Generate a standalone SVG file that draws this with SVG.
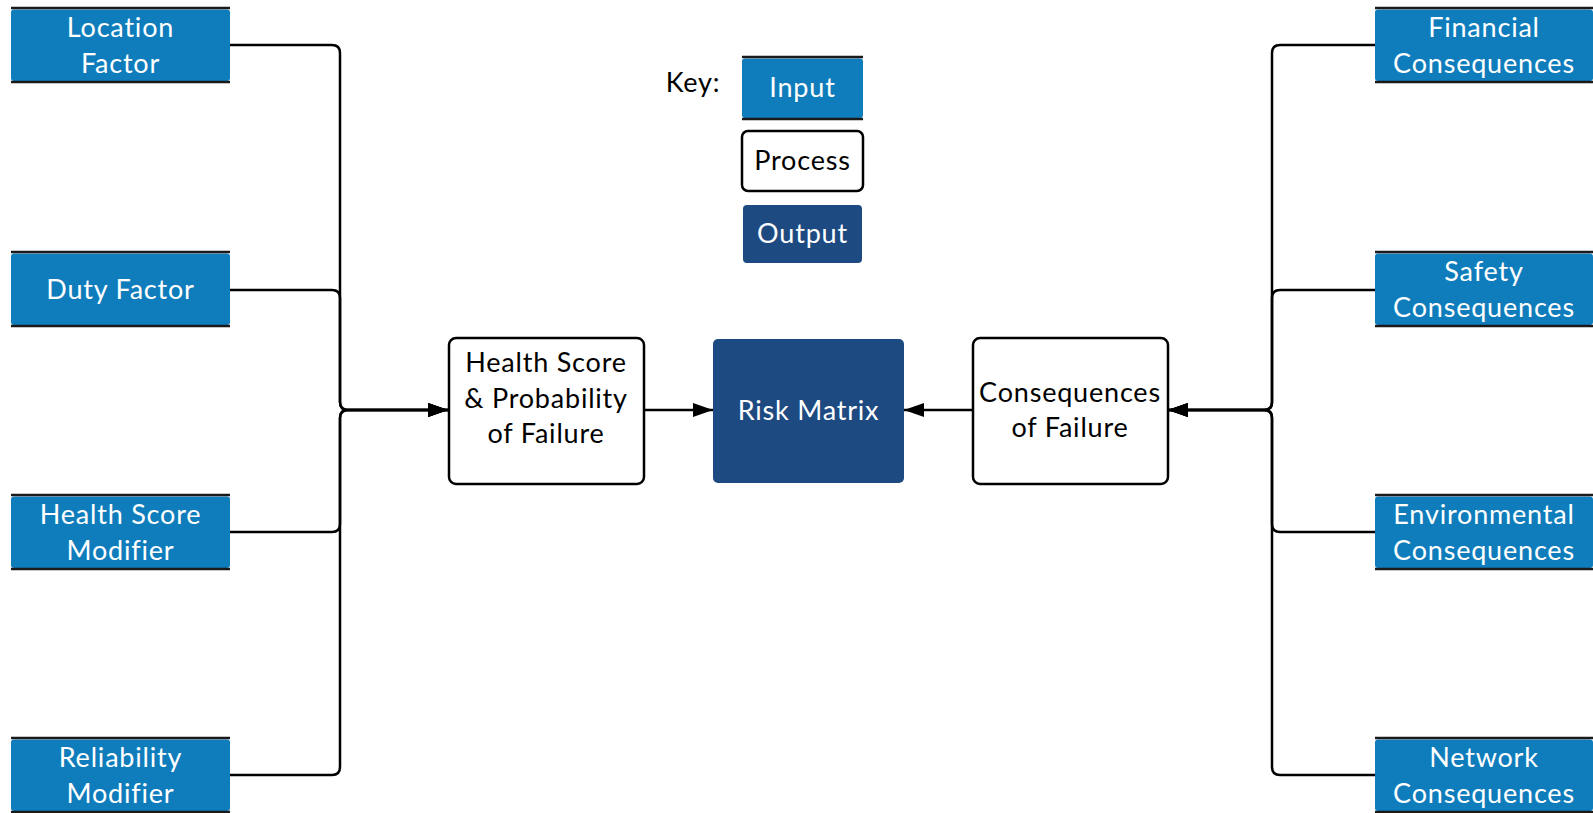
<svg xmlns="http://www.w3.org/2000/svg" width="1593" height="813" viewBox="0 0 1593 813">
  <defs>
    <marker id="arrowhead" viewBox="0 0 20 14" refX="20" refY="7" markerWidth="20" markerHeight="14" markerUnits="userSpaceOnUse" orient="auto">
      <path d="M0,0 L20,7 L0,14 z" fill="#000"/>
    </marker>
  </defs>
  <style>
    text { font-family: "Lato", "Liberation Sans", sans-serif; font-size: 27px; letter-spacing: 0.8px; text-anchor: middle; }
    .in rect { fill: #0f7dbc; }
    .in line { stroke: #1a1a1a; stroke-width: 2.5; }
    .in text { fill: #ffffff; }
    .proc rect { fill: #ffffff; stroke: #000; stroke-width: 2.5; }
    .proc text { fill: #000; }
    .out rect { fill: #1d4a81; }
    .out text { fill: #ffffff; }
    .wire { fill: none; stroke: #000; stroke-width: 2.5; }
  </style>
  <rect width="1593" height="813" fill="#fff"/>

  <!-- connectors -->
  <g id="connectors">
    <!-- left inputs into health score box -->
    <path class="wire" d="M230,45 H332 Q340,45 340,53 V402 Q340,410 348,410 H448" marker-end="url(#arrowhead)"/>
    <path class="wire" d="M230,290 H332 Q340,290 340,298 V402 Q340,410 348,410 H448" marker-end="url(#arrowhead)"/>
    <path class="wire" d="M230,532 H332 Q340,532 340,524 V418 Q340,410 348,410 H448" marker-end="url(#arrowhead)"/>
    <path class="wire" d="M230,775 H332 Q340,775 340,767 V418 Q340,410 348,410 H448" marker-end="url(#arrowhead)"/>
    <!-- right inputs into consequences box -->
    <path class="wire" d="M1375,45 H1280 Q1272,45 1272,53 V402 Q1272,410 1264,410 H1168" marker-end="url(#arrowhead)"/>
    <path class="wire" d="M1375,290 H1280 Q1272,290 1272,298 V402 Q1272,410 1264,410 H1168" marker-end="url(#arrowhead)"/>
    <path class="wire" d="M1375,532 H1280 Q1272,532 1272,524 V418 Q1272,410 1264,410 H1168" marker-end="url(#arrowhead)"/>
    <path class="wire" d="M1375,775 H1280 Q1272,775 1272,767 V418 Q1272,410 1264,410 H1168" marker-end="url(#arrowhead)"/>
    <!-- process boxes into risk matrix -->
    <path class="wire" d="M644,410 H713" marker-end="url(#arrowhead)"/>
    <path class="wire" d="M972,410 H904" marker-end="url(#arrowhead)"/>
  </g>

  <!-- key -->
  <g id="key">
    <text x="693" y="92" style="fill: #000;">Key:</text>
    <g id="key-input" class="in">
      <rect x="742" y="58.5" width="121" height="59.5" rx="3"/>
      <line x1="742" y1="57" x2="863" y2="57"/>
      <line x1="742" y1="119" x2="863" y2="119"/>
      <text x="802.5" y="97">Input</text>
    </g>
    <g id="key-process" class="proc">
      <rect x="742" y="131" width="121" height="60" rx="6"/>
      <text x="802.5" y="170">Process</text>
    </g>
    <g id="key-output" class="out">
      <rect x="743" y="205" width="119" height="58" rx="4"/>
      <text x="802.5" y="243">Output</text>
    </g>
  </g>

  <!-- left inputs -->
  <g id="location-factor" class="in">
    <rect x="11" y="9.5" width="219" height="71.5" rx="3"/>
    <line x1="11" y1="8" x2="230" y2="8"/>
    <line x1="11" y1="82" x2="230" y2="82"/>
    <text x="120.5" y="37">Location</text>
    <text x="120.5" y="73">Factor</text>
  </g>
  <g id="duty-factor" class="in">
    <rect x="11" y="253.5" width="219" height="71.5" rx="3"/>
    <line x1="11" y1="252" x2="230" y2="252"/>
    <line x1="11" y1="326" x2="230" y2="326"/>
    <text x="120.5" y="299">Duty Factor</text>
  </g>
  <g id="health-score-modifier" class="in">
    <rect x="11" y="496.5" width="219" height="71.5" rx="3"/>
    <line x1="11" y1="495" x2="230" y2="495"/>
    <line x1="11" y1="569" x2="230" y2="569"/>
    <text x="120.5" y="524">Health Score</text>
    <text x="120.5" y="560">Modifier</text>
  </g>
  <g id="reliability-modifier" class="in">
    <rect x="11" y="739.5" width="219" height="71.5" rx="3"/>
    <line x1="11" y1="738" x2="230" y2="738"/>
    <line x1="11" y1="812" x2="230" y2="812"/>
    <text x="120.5" y="767">Reliability</text>
    <text x="120.5" y="803">Modifier</text>
  </g>

  <!-- right inputs -->
  <g id="financial-consequences" class="in">
    <rect x="1375" y="9.5" width="218" height="71.5" rx="3"/>
    <line x1="1375" y1="8" x2="1593" y2="8"/>
    <line x1="1375" y1="82" x2="1593" y2="82"/>
    <text x="1484" y="37">Financial</text>
    <text x="1484" y="73">Consequences</text>
  </g>
  <g id="safety-consequences" class="in">
    <rect x="1375" y="253.5" width="218" height="71.5" rx="3"/>
    <line x1="1375" y1="252" x2="1593" y2="252"/>
    <line x1="1375" y1="326" x2="1593" y2="326"/>
    <text x="1484" y="281">Safety</text>
    <text x="1484" y="317">Consequences</text>
  </g>
  <g id="environmental-consequences" class="in">
    <rect x="1375" y="496.5" width="218" height="71.5" rx="3"/>
    <line x1="1375" y1="495" x2="1593" y2="495"/>
    <line x1="1375" y1="569" x2="1593" y2="569"/>
    <text x="1484" y="524">Environmental</text>
    <text x="1484" y="560">Consequences</text>
  </g>
  <g id="network-consequences" class="in">
    <rect x="1375" y="739.5" width="218" height="71.5" rx="3"/>
    <line x1="1375" y1="738" x2="1593" y2="738"/>
    <line x1="1375" y1="812" x2="1593" y2="812"/>
    <text x="1484" y="767">Network</text>
    <text x="1484" y="803">Consequences</text>
  </g>

  <!-- processes -->
  <g id="health-score-pof" class="proc">
    <rect x="449" y="338" width="195" height="146" rx="7"/>
    <text x="546" y="372">Health Score</text>
    <text x="546" y="408">&amp; Probability</text>
    <text x="546" y="443">of Failure</text>
  </g>
  <g id="consequences-of-failure" class="proc">
    <rect x="973" y="338" width="195" height="146" rx="7"/>
    <text x="1070" y="402">Consequences</text>
    <text x="1070" y="437">of Failure</text>
  </g>

  <!-- output -->
  <g id="risk-matrix" class="out">
    <rect x="713" y="339" width="191" height="144" rx="5"/>
    <text x="808.5" y="420">Risk Matrix</text>
  </g>
</svg>
